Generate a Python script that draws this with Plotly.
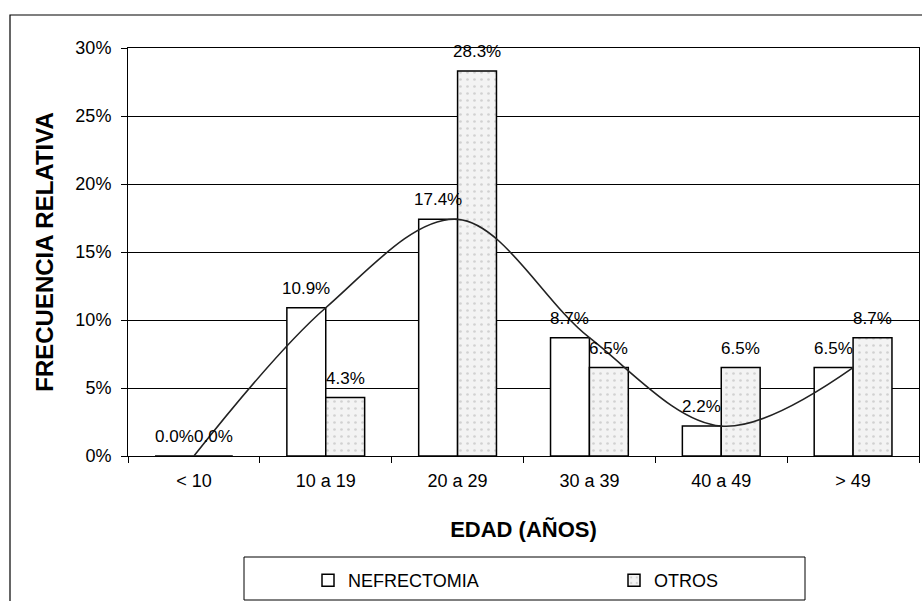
import plotly.graph_objects as go

categories = ["< 10", "10 a 19", "20 a 29", "30 a 39", "40 a 49", "> 49"]
nefrectomia = [0.0, 10.9, 17.4, 8.7, 2.2, 6.5]
otros = [0.0, 4.3, 28.3, 6.5, 6.5, 8.7]
y_ticks = [0, 5, 10, 15, 20, 25, 30]

W, H = 922, 601
L, R, T, B = 128, 3, 48, 145
pw, ph = W - L - R, H - T - B
BARGAP = 0.41

def px(x):
    return (x - L) / pw

def py(y):
    return (H - B - y) / ph

FONT = "Liberation Sans, Arial, sans-serif"

fig = go.Figure()
fig.add_trace(go.Bar(
    x=categories, y=nefrectomia, name="NEFRECTOMIA",
    marker=dict(color="white", line=dict(color="black", width=1.5)),
))
fig.add_trace(go.Bar(
    x=categories, y=otros, name="OTROS",
    marker=dict(color="#f0f0f0", line=dict(color="black", width=1.5),
                pattern=dict(shape=".", fgcolor="#b0b0b0", bgcolor="#f3f3f3",
                             size=7, solidity=0.12)),
))
fig.add_trace(go.Scatter(
    x=categories, y=nefrectomia, mode="lines", showlegend=False,
    line=dict(color="#222222", width=1.6, shape="spline", smoothing=1.0),
    hoverinfo="skip",
))

# value labels above each bar (bar centres follow the grouped-bar geometry)
half = (1 - BARGAP) / 4
annotations = []
for i, (a, b) in enumerate(zip(nefrectomia, otros)):
    for off, v in ((-half, a), (half, b)):
        annotations.append(dict(
            x=i + off, y=v, xref="x", yref="y", text=f"{v:.1f}%",
            showarrow=False, yanchor="bottom", xanchor="center", yshift=8,
            font=dict(family=FONT, size=17, color="black"),
        ))

fig.update_layout(
    width=W, height=H,
    margin=dict(l=L, r=R, t=T, b=B, autoexpand=False),
    paper_bgcolor="white", plot_bgcolor="white",
    barmode="group", bargap=BARGAP, bargroupgap=0,
    font=dict(family=FONT, size=18, color="black"),
    showlegend=True,
    legend=dict(orientation="h", x=px(308), xanchor="left", y=py(562), yanchor="top",
                bgcolor="rgba(0,0,0,0)", borderwidth=0,
                font=dict(family=FONT, size=18, color="black"),
                entrywidth=261, entrywidthmode="pixels", itemwidth=30,
                traceorder="normal"),
    xaxis=dict(
        type="category", showline=True, linecolor="black", linewidth=1, mirror=True,
        ticks="outside", tickson="boundaries", ticklen=6, tickcolor="black",
        showgrid=False, ticklabelstandoff=8, range=[-0.5, len(categories) - 0.5],
        tickfont=dict(family=FONT, size=18, color="black"),
        title=dict(text="<b>EDAD (AÑOS)</b>", standoff=32,
                   font=dict(family=FONT, size=22, color="black")),
        fixedrange=True,
    ),
    yaxis=dict(
        range=[0, 30], tickvals=y_ticks, ticktext=[f"{v}%" for v in y_ticks],
        showline=True, linecolor="black", linewidth=1, mirror=True,
        ticks="outside", ticklen=6, tickcolor="black",
        showgrid=True, gridcolor="black", gridwidth=1, zeroline=False,
        ticklabelstandoff=6,
        tickfont=dict(family=FONT, size=18, color="black"),
        title=dict(text="<b>FRECUENCIA RELATIVA</b>", standoff=14,
                   font=dict(family=FONT, size=24, color="black")),
        fixedrange=True,
    ),
    annotations=annotations,
    shapes=[
        dict(type="rect", xref="paper", yref="paper",
             x0=px(10), x1=px(930), y0=py(620), y1=py(15),
             line=dict(color="black", width=1.2), fillcolor="rgba(0,0,0,0)", layer="below"),
        dict(type="rect", xref="paper", yref="paper",
             x0=px(244), x1=px(805), y0=py(600), y1=py(557),
             line=dict(color="black", width=1), fillcolor="rgba(0,0,0,0)"),
    ],
)

fig.write_html("out.html", config={"displayModeBar": False},
               post_script="document.body.style.margin='0';")
